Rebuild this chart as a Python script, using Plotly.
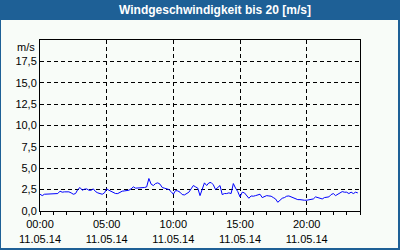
import pandas as pd
import plotly.graph_objects as go

# --- data (10-minute wind speed readings, m/s) ---
start_time = "2014-05-11 00:00"
interval = "10min"
wind = [
    1.96, 1.80, 1.96, 1.96, 2.00, 2.04,  # 00
    2.04, 2.04, 2.04, 2.32, 2.20, 2.24,  # 01
    2.27, 2.24, 2.12, 1.96, 2.04, 2.51,  # 02
    2.75, 2.43, 2.55, 2.59, 2.43, 2.43,  # 03
    2.59, 2.27, 2.12, 2.04, 1.96, 2.12,  # 04
    2.59, 2.43, 2.27, 2.20, 2.04, 2.04,  # 05
    2.20, 2.32, 2.35, 2.35, 2.43, 2.59,  # 06
    2.82, 2.67, 2.67, 2.67, 2.75, 2.75,  # 07
    2.82, 3.80, 3.14, 2.98, 3.21, 3.29,  # 08
    3.14, 2.75, 2.67, 2.59, 2.51, 2.27,  # 09
    1.96, 2.39, 2.35, 2.20, 1.92, 1.88,  # 10
    2.04, 2.20, 2.59, 2.98, 2.82, 2.67,  # 11
    1.80, 2.63, 3.29, 2.98, 3.29, 3.33,  # 12
    3.06, 2.51, 2.75, 2.98, 1.92, 2.04,  # 13
    2.04, 2.12, 2.04, 3.21, 2.67, 2.27,  # 14
    1.65, 2.20, 2.12, 1.80, 1.49, 1.76,  # 15
    1.73, 1.80, 1.88, 1.96, 1.57, 1.73,  # 16
    1.80, 1.76, 1.73, 1.57, 1.41, 1.02,  # 17
    1.26, 1.49, 1.57, 1.73, 1.76, 1.65,  # 18
    1.57, 1.45, 1.33, 1.33, 1.26, 1.26,  # 19
    1.26, 1.30, 1.37, 1.41, 1.65, 1.57,  # 20
    1.57, 1.41, 1.57, 1.57, 1.65, 1.92,  # 21
    2.04, 1.80, 1.96, 2.20, 2.27, 2.20,  # 22
    2.20, 2.04, 2.20, 2.04, 2.20, 2.12,  # 23
]
x_tick_vals = ["2014-05-11 00:00", "2014-05-11 05:00", "2014-05-11 10:00",
               "2014-05-11 15:00", "2014-05-11 20:00"]
x_tick_text = ["00:00<br>11.05.14", "05:00<br>11.05.14", "10:00<br>11.05.14",
               "15:00<br>11.05.14", "20:00<br>11.05.14"]
y_tick_vals = [0, 2.5, 5, 7.5, 10, 12.5, 15, 17.5]
y_tick_text = ["0,0", "2,5", "5,0", "7,5", "10,0", "12,5", "15,0", "17,5"]
title_text = "Windgeschwindigkeit bis 20 [m/s]"
unit_text = "m/s"

times = pd.date_range(start_time, periods=len(wind), freq=interval)

W, H = 400, 250
ML, MR, MT, MB = 40, 40, 40, 39
PW, PH = W - ML - MR, H - MT - MB
BLUE = "#1E6096"
BG = "#F8FCF8"
FONT = "Liberation Sans"


def px_x(p):
    return (p - ML) / PW


def px_y(p):
    return 1 - (p - MT) / PH


fig = go.Figure()
fig.add_trace(go.Scatter(x=times, y=wind, mode="lines",
                         line=dict(color="#0000FF", width=1),
                         hoverinfo="skip", showlegend=False))

fig.update_layout(
    width=W, height=H,
    margin=dict(l=ML, r=MR, t=MT, b=MB, pad=0, autoexpand=False),
    paper_bgcolor=BG, plot_bgcolor=BG,
    font=dict(family=FONT, size=11, color="black"),
    showlegend=False,
    xaxis=dict(
        range=["2014-05-11 00:00", "2014-05-12 00:00"],
        tickvals=x_tick_vals, ticktext=x_tick_text,
        showline=True, linecolor="black", linewidth=1, mirror=True,
        ticks="outside", ticklen=3, tickcolor="black", tickwidth=1,
        showgrid=True, gridcolor="black", gridwidth=1, griddash="4px,3px",
        minor=dict(dtick=3600000, ticks="outside", ticklen=3,
                   tickcolor="black", showgrid=False),
        zeroline=False, fixedrange=True, automargin=False,
        tickfont=dict(family=FONT, size=11, color="black"),
    ),
    yaxis=dict(
        range=[0, 20],
        tickvals=y_tick_vals, ticktext=y_tick_text,
        showline=True, linecolor="black", linewidth=1, mirror=True,
        ticks="", showgrid=True, gridcolor="black", gridwidth=1,
        griddash="4px,3px", zeroline=False, fixedrange=True, automargin=False,
        tickfont=dict(family=FONT, size=11, color="black"),
    ),
    shapes=[
        dict(type="rect", xref="paper", yref="paper",
             x0=px_x(0), x1=px_x(W), y0=px_y(20), y1=px_y(0),
             fillcolor=BLUE, line=dict(width=0), layer="above"),
        dict(type="rect", xref="paper", yref="paper",
             x0=px_x(0), x1=px_x(1), y0=px_y(H), y1=px_y(0),
             fillcolor=BLUE, line=dict(width=0), layer="above"),
        dict(type="rect", xref="paper", yref="paper",
             x0=px_x(W - 2), x1=px_x(W), y0=px_y(H), y1=px_y(0),
             fillcolor=BLUE, line=dict(width=0), layer="above"),
        dict(type="rect", xref="paper", yref="paper",
             x0=px_x(0), x1=px_x(W), y0=px_y(H), y1=px_y(H - 2),
             fillcolor=BLUE, line=dict(width=0), layer="above"),
    ],
    annotations=[
        dict(text="<b>" + title_text + "</b>", xref="paper", yref="paper",
             x=px_x(215), y=px_y(10), xanchor="center", yanchor="middle",
             showarrow=False, font=dict(family=FONT, size=12, color="white")),
        dict(text=unit_text, xref="paper", yref="paper",
             x=px_x(37), y=px_y(47), xanchor="right", yanchor="middle",
             showarrow=False, font=dict(family=FONT, size=11, color="black")),
    ],
)

fig.write_html("out.html")
